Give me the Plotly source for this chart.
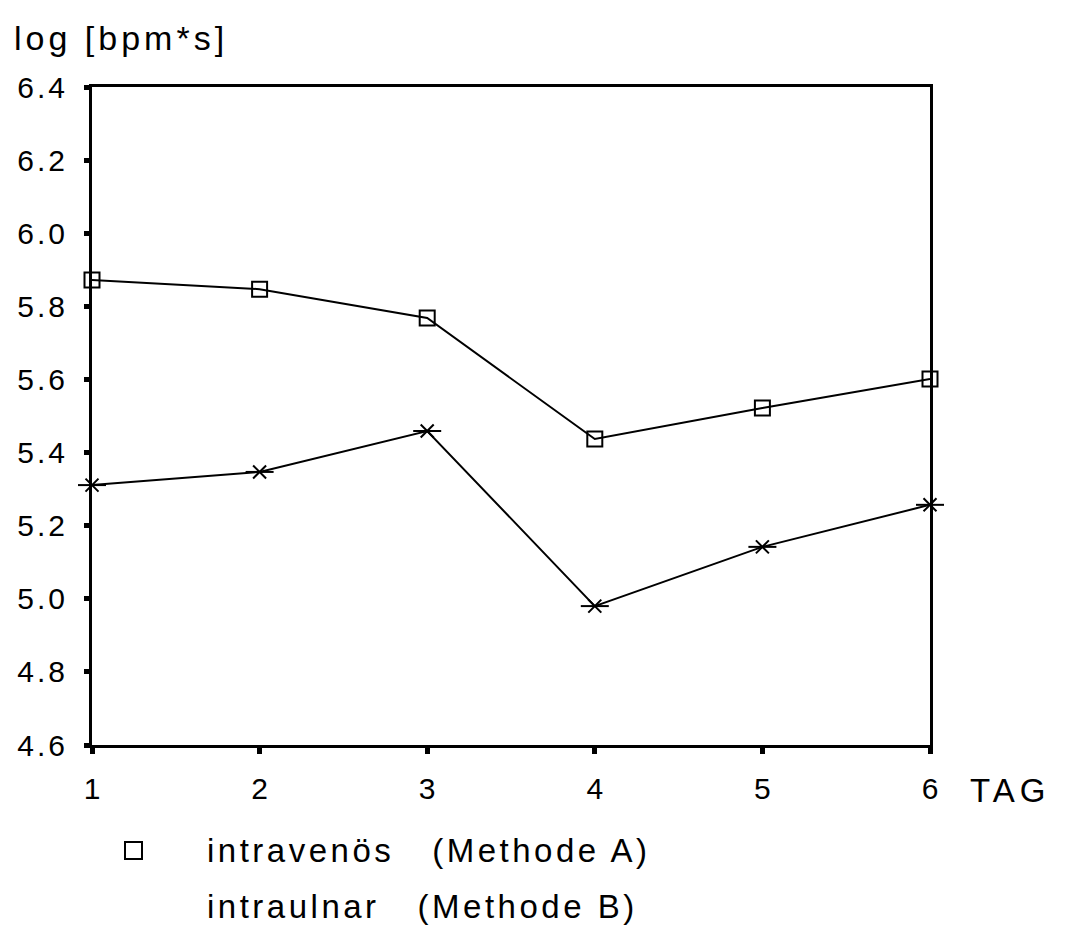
import plotly.graph_objects as go

tage = [1, 2, 3, 4, 5, 6]
methode_a = [5.872, 5.847, 5.768, 5.437, 5.522, 5.601]
methode_b = [5.311, 5.347, 5.459, 4.980, 5.142, 5.257]
y_ticks = [4.6, 4.8, 5.0, 5.2, 5.4, 5.6, 5.8, 6.0, 6.2, 6.4]
name_a = "intravenös   (Methode A)"
name_b = "intraulnar   (Methode B)"

FONT = "Liberation Sans, Arial, sans-serif"


def spaced(text, px):
    return f'<span style="letter-spacing:{px}px">{text}</span>'


# page body has an 8px margin; figure placed so it ends at the window edge
W, H = 1058, 920
L, T = 84, 79
PW, PH = 838, 658


def px_x(x):  # screen x -> paper coord
    return (x - 8 - L) / PW


def px_y(y):  # screen y -> paper coord
    return 1 - (y - 8 - T) / PH


fig = go.Figure()
fig.add_trace(go.Scatter(
    x=tage, y=methode_a, mode="lines+markers", name=name_a,
    line=dict(color="black", width=2),
    marker=dict(symbol="square-open", size=15, color="black", line=dict(width=2)),
    cliponaxis=False, showlegend=False))
fig.add_trace(go.Scatter(
    x=tage, y=methode_b, mode="lines+markers", name=name_b,
    line=dict(color="black", width=2),
    marker=dict(symbol="x-thin-open", size=13, color="black", line=dict(width=2)),
    cliponaxis=False, showlegend=False))
fig.add_trace(go.Scatter(
    x=tage, y=methode_b, mode="markers", name=name_b,
    marker=dict(symbol="line-ew-open", size=20, color="black", line=dict(width=2)),
    cliponaxis=False, showlegend=False, hoverinfo="skip"))

fig.update_layout(
    width=W, height=H,
    margin=dict(l=L, r=W - L - PW, t=T, b=H - T - PH, autoexpand=False),
    paper_bgcolor="white", plot_bgcolor="white",
    font=dict(family=FONT, size=30, color="black"),
    xaxis=dict(range=[1, 6], tickvals=tage, ticktext=[str(t) for t in tage],
               showgrid=False, zeroline=False, showline=True, linecolor="black",
               linewidth=3, mirror=True, ticks="outside", ticklen=6, tickwidth=5,
               tickcolor="black", ticklabelstandoff=9, automargin=False,
               tickfont=dict(family=FONT, size=30)),
    yaxis=dict(range=[4.6, 6.4], tickvals=y_ticks,
               ticktext=[spaced(f"{v:.1f}", 3) for v in y_ticks],
               showgrid=False, zeroline=False, showline=True, linecolor="black",
               linewidth=3, mirror=True, ticks="outside", ticklen=5, tickwidth=5,
               tickcolor="black", ticklabelstandoff=10, automargin=False,
               tickfont=dict(family=FONT, size=30)),
)

fig.add_annotation(text=spaced("log [bpm*s]", 4), xref="paper", yref="paper",
                   x=px_x(12), y=px_y(38), xanchor="left", yanchor="middle",
                   showarrow=False, font=dict(family=FONT, size=34))
fig.add_annotation(text=spaced("TAG", 5), xref="paper", yref="paper",
                   x=px_x(968), y=px_y(790), xanchor="left", yanchor="middle",
                   showarrow=False, font=dict(family=FONT, size=33))

# legend (manual)
fig.add_shape(type="rect", xref="paper", yref="paper",
              x0=px_x(125), x1=px_x(142), y0=px_y(859), y1=px_y(842),
              line=dict(color="black", width=2))
fig.add_annotation(text=spaced(name_a, 3.5), xref="paper", yref="paper", x=px_x(205),
                   y=px_y(850), xanchor="left", yanchor="middle", showarrow=False,
                   font=dict(family=FONT, size=33))
fig.add_annotation(text=spaced(name_b, 3.5), xref="paper", yref="paper", x=px_x(205),
                   y=px_y(907), xanchor="left", yanchor="middle", showarrow=False,
                   font=dict(family=FONT, size=33))

fig.write_html("out.html")
